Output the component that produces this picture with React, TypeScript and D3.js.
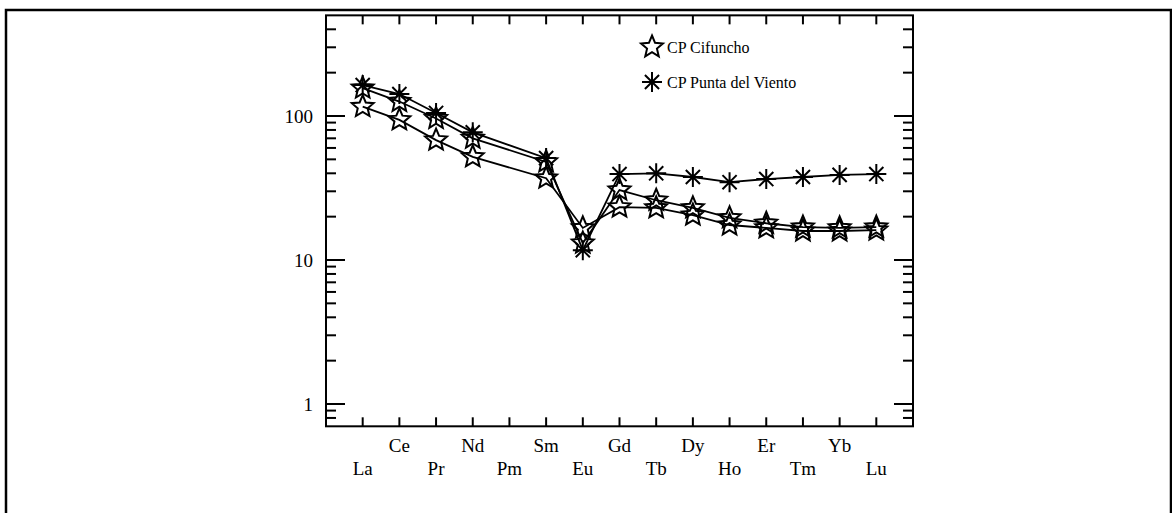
import React from "react";
import * as d3 from "d3";

const elements = ["La", "Ce", "Pr", "Nd", "Pm", "Sm", "Eu", "Gd", "Tb", "Dy", "Ho", "Er", "Tm", "Yb", "Lu"];

const cifunchoA = [156, 126, 96, 70, null, 48, 13.1, 30.6, 26, 23, 19.6, 18, 16.9, 16.7, 16.9];
const cifunchoB = [116, 94, 68, 52, null, 37, 16.7, 23.3, 23, 20.5, 17.5, 16.7, 15.9, 15.9, 16.1];
const puntaViento = [164, 142, 105, 77, null, 51, 11.7, 39.5, 40, 37.7, 34.7, 36.5, 37.7, 39, 39.5];

const yTickValues = [1, 10, 100];
const legendLabels = ["CP Cifuncho", "CP Punta del Viento"];

const FONT = "'Liberation Serif', 'Times New Roman', serif";

function starPath(cx: number, cy: number, R = 11.5, r = 5.2) {
  const pts: [number, number][] = [];
  for (let i = 0; i < 10; i++) {
    const rad = i % 2 === 0 ? R : r;
    const a = -Math.PI / 2 + (i * Math.PI) / 5;
    pts.push([cx + rad * Math.cos(a), cy + rad * Math.sin(a)]);
  }
  return "M" + pts.map((p) => p.join(",")).join("L") + "Z";
}

function asteriskPath(cx: number, cy: number, R = 10) {
  let d = "";
  for (let i = 0; i < 4; i++) {
    const a = (i * Math.PI) / 4;
    const dx = R * Math.cos(a);
    const dy = R * Math.sin(a);
    d += `M${cx - dx},${cy - dy}L${cx + dx},${cy + dy}`;
  }
  return d;
}

export default function App() {
  const x = d3.scaleLinear().domain([0, 16]).range([326, 913]);
  const y = d3.scaleLog().domain([1, 100]).range([404, 116]);
  const yTop = y(500);
  const yBot = y(0.7);
  const left = x(0);
  const right = x(16);

  type P = { i: number; v: number };
  const line = d3
    .line<P>()
    .x((d) => x(d.i + 1))
    .y((d) => y(d.v));

  const pts = (data: (number | null)[]): P[] =>
    data.map((v, i) => ({ i, v: v as number })).filter((d) => d.v != null);

  const minorTicks: number[] = [0.8, 0.9];
  [1, 10].forEach((dec) => {
    for (let k = 2; k <= 9; k++) minorTicks.push(dec * k);
  });
  [200, 300, 400].forEach((v) => minorTicks.push(v));

  const series = [
    { data: cifunchoB, kind: "star" },
    { data: cifunchoA, kind: "star" },
    { data: puntaViento, kind: "ast" },
  ];

  return (
    <svg
      width={1172}
      height={513}
      style={{ position: "absolute", left: 0, top: 0, background: "#fff" }}
      fontFamily={FONT}
    >
      <rect x={6} y={10} width={1165} height={520} fill="none" stroke="#000" strokeWidth={2.5} />

      {/* frame */}
      <rect x={left} y={yTop} width={right - left} height={yBot - yTop} fill="none" stroke="#000" strokeWidth={2} />

      {/* y ticks */}
      {yTickValues.map((v) => (
        <g key={"maj" + v}>
          <line x1={left} x2={left + 19} y1={y(v)} y2={y(v)} stroke="#000" strokeWidth={2} />
          <line x1={right} x2={right - 19} y1={y(v)} y2={y(v)} stroke="#000" strokeWidth={2} />
          <text x={313} y={y(v)} dy="0.35em" textAnchor="end" fontSize={19}>
            {v}
          </text>
        </g>
      ))}
      {minorTicks.map((v) => (
        <g key={"min" + v}>
          <line x1={left} x2={left + 10} y1={y(v)} y2={y(v)} stroke="#000" strokeWidth={2} />
          <line x1={right} x2={right - 10} y1={y(v)} y2={y(v)} stroke="#000" strokeWidth={2} />
        </g>
      ))}

      {/* x ticks */}
      {elements.map((el, i) => (
        <g key={el}>
          <line x1={x(i + 1)} x2={x(i + 1)} y1={yBot} y2={yBot - 9} stroke="#000" strokeWidth={2} />
          <line x1={x(i + 1)} x2={x(i + 1)} y1={yTop} y2={yTop + 9} stroke="#000" strokeWidth={2} />
          <text x={x(i + 1)} y={i % 2 === 0 ? 475 : 452} textAnchor="middle" fontSize={19}>
            {el}
          </text>
        </g>
      ))}

      {/* lines */}
      {series.map((s, k) => (
        <path key={"l" + k} d={line(pts(s.data)) || ""} fill="none" stroke="#000" strokeWidth={1.8} />
      ))}
      {/* markers */}
      {series.map((s, k) =>
        pts(s.data).map((d) => (
          <path
            key={`m${k}-${d.i}`}
            d={s.kind === "star" ? starPath(x(d.i + 1), y(d.v)) : asteriskPath(x(d.i + 1), y(d.v))}
            fill="none"
            stroke="#000"
            strokeWidth={2}
            strokeLinejoin="miter"
          />
        ))
      )}

      {/* legend */}
      <path d={starPath(652, 47)} fill="none" stroke="#000" strokeWidth={2} />
      <text x={667} y={53} fontSize={16}>
        {legendLabels[0]}
      </text>
      <path d={asteriskPath(652, 82)} fill="none" stroke="#000" strokeWidth={2} />
      <text x={667} y={88} fontSize={16}>
        {legendLabels[1]}
      </text>
    </svg>
  );
}
